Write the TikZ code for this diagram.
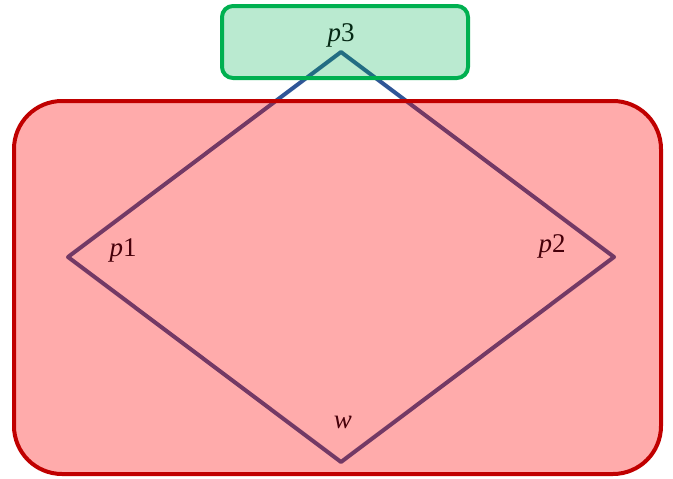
\documentclass[tikz,border=0pt]{standalone}
\usepackage{fontspec}
\setmainfont{Liberation Serif}
\definecolor{lineblue}{RGB}{47,85,151}
\definecolor{darkred}{RGB}{192,0,0}
\definecolor{mygreen}{RGB}{0,176,80}
\definecolor{redtext}{RGB}{70,0,10}
\definecolor{greentext}{RGB}{5,40,20}
\newcommand{\vlab}[2]{{\itshape #1}#2}
\begin{document}
\begin{tikzpicture}[x=1pt,y=-1pt,
  edge/.style={draw=lineblue, line width=4pt, line join=round},
  lbl/.style={inner sep=0pt, text=redtext, font=\fontsize{27}{31}\selectfont},
  redbox/.style={draw=darkred, line width=4pt, rounded corners=48pt},
  greenbox/.style={draw=mygreen, line width=4pt, rounded corners=11pt}]
\useasboundingbox (0,0) rectangle (673,479);
\coordinate (t) at (341,52);
\coordinate (l) at (68,257);
\coordinate (r) at (614,257);
\coordinate (b) at (341,462);
\draw[edge] (t) -- (l) -- (b) -- (r) -- cycle;
\fill[red, fill opacity=0.33, rounded corners=48pt] (14,101) rectangle (661,474);
\draw[redbox] (14,101) rectangle (661,474);
\fill[mygreen, fill opacity=0.27, rounded corners=11pt] (222,6) rectangle (468,78);
\draw[greenbox] (222,6) rectangle (468,78);
\node[lbl, text=greentext] (p3) at (341,35) {\vlab{p}{3}};
\node[lbl] (p1) at (123,250) {\vlab{p}{1}};
\node[lbl] (p2) at (552,246) {\vlab{p}{2}};
\node[lbl] (w) at (343,422) {\vlab{w}{}};
\end{tikzpicture}
\end{document}
